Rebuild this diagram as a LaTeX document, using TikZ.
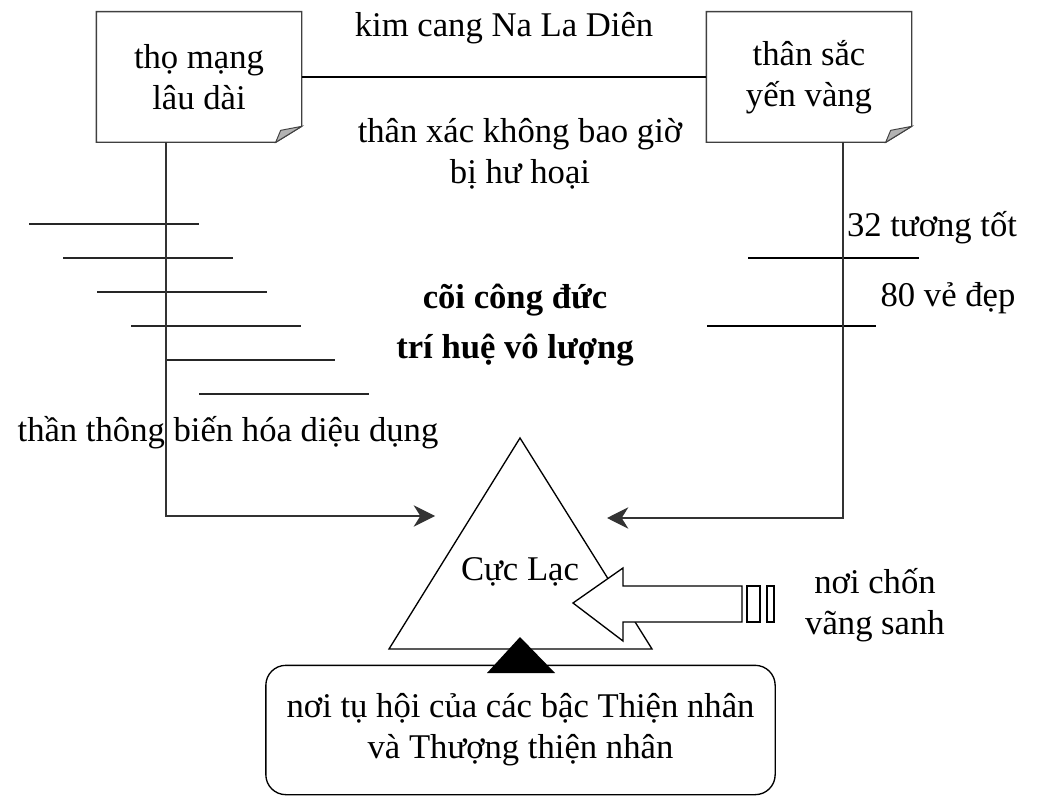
\documentclass[tikz,border=0pt]{standalone}
\usepackage{fontspec}
\setmainfont{Liberation Serif}
\usetikzlibrary{arrows.meta}

\tikzset{
  flow/.style = {draw = black!80, line width = 1pt, -{Stealth[length=16pt, width=16pt, inset=5pt]}},
  notebox/.style = {minimum width = 153pt, minimum height = 97pt, align = center, inner sep = 0pt},
  label/.style = {align = center, inner sep = 0pt},
}

\begin{document}
\begin{tikzpicture}[x = 0.75pt, y = -0.75pt, line width = 1pt,
    font = \fontsize{26}{31}\selectfont]
  \useasboundingbox (0,0) rectangle (1046,798);

  % the two notes on top
  \node[notebox] (life) at (199,77) {thọ mạng\\lâu dài};
  \node[notebox] (body) at (809,77) {thân sắc\\yến vàng};
  \foreach \n in {life, body} {
    \draw[black!75] (\n.north west) -- (\n.north east) -- ([shift={(0,-16)}]\n.south east)
      -- ([shift={(-26,0)}]\n.south east) -- (\n.south west) -- cycle;
    \draw[black!75, fill = black!30, line width = .7pt] ([shift={(-26,0)}]\n.south east)
      -- ([shift={(0,-16)}]\n.south east) -- ([shift={(-21,-12)}]\n.south east) -- cycle;
  }
  \draw (life.east) -- (body.west);
  \node[label] (diamond) at (504,28) {kim cang Na La Diên};
  \node[label] (indestr) at (520,154) {thân xác không bao giờ\\bị hư hoại};

  % left side
  \foreach \i in {0,...,5}
    \draw[black!85] (29+34*\i, 224+34*\i) -- ++(170,0);
  \node[label] (powers) at (228,433) {thần thông biến hóa diệu dụng};

  % right side
  \draw (748,258) -- (919,258);
  \draw (707,326) -- (876,326);
  \node[label] (marks) at (932,228) {32 tương tốt};
  \node[label] (beauty) at (948,298) {80 vẻ đẹp};

  \node[label, font = \fontsize{26}{38}\selectfont\bfseries] (merit) at (515,325)
    {cõi công đức\\trí huệ vô lượng};

  % Cuc Lac
  \draw (520,438) -- (389,649) -- (652,649) -- cycle;
  \node[label] (bliss) at (520,572) {Cực Lạc};
  \coordinate (lbend) at (166,516);
  \coordinate (ltip) at (435,516);
  \coordinate (rbend) at (843,518);
  \coordinate (rtip) at (607,518);
  \draw[flow] (lbend |- life.south) -- (lbend) -- (ltip);
  \draw[flow] (rbend |- body.south) -- (rbend) -- (rtip);

  % striped block arrow
  \draw[fill = white] (573,603) -- (623,568) -- (623,586) -- (742,586) -- (742,622)
    -- (623,622) -- (623,641) -- cycle;
  \draw (747,586) rectangle (760,622);
  \draw (767,586) rectangle (774,622);
  \node[label] (rebirth) at (875,605) {nơi chốn\\vãng sanh};

  % assembly
  \node[draw, rounded corners = 15pt, minimum width = 382pt, minimum height = 97pt,
    align = center, inner sep = 0pt] (assembly) at (520.5,730)
    {nơi tụ hội của các bậc Thiện nhân\\và Thượng thiện nhân};
  \fill (520,637) -- (487,673) -- (555,673) -- cycle;
\end{tikzpicture}
\end{document}
